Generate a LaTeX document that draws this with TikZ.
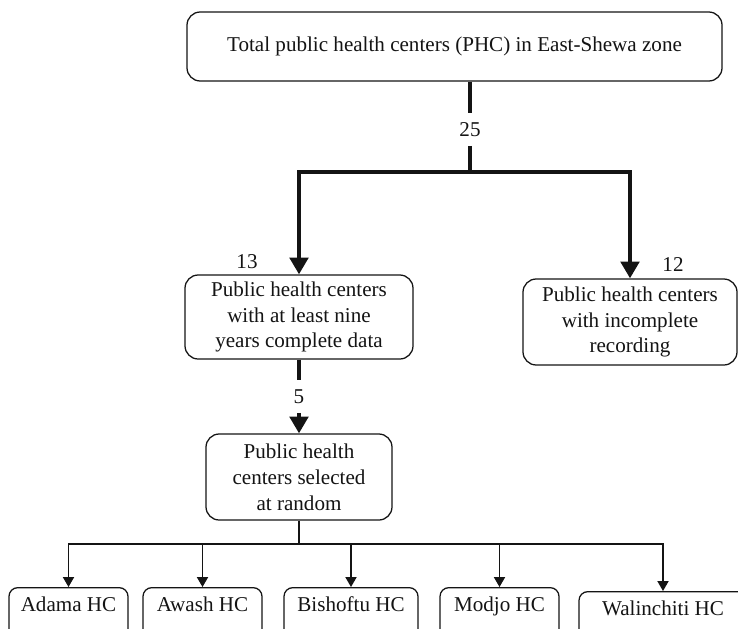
\documentclass[tikz,border=0pt]{standalone}
\usepackage{fontspec}
\setmainfont{Liberation Serif}
\usepackage{tikz}
\usetikzlibrary{arrows.meta}
\definecolor{PhcInk}{RGB}{20,20,20}
\tikzset{
  phc/box/.style={
    draw=PhcInk,
    line width=0.9pt,
    rounded corners=0.33cm,
    fill=white,
    align=center,
    text=PhcInk,
    inner xsep=6pt,
    inner ysep=4pt,
    font=\fontsize{15}{18.4}\selectfont
  },
  phc/leaf/.style={
    draw=PhcInk,
    line width=0.9pt,
    rounded corners=0.22cm,
    fill=white,
    align=center,
    text=PhcInk,
    anchor=north,
    text height=0.35cm,
    text depth=0.6cm,
    inner ysep=0.25cm,
    font=\fontsize{15}{18.4}\selectfont
  },
  phc/count/.style={font=\fontsize{15}{18.4}\selectfont, text=PhcInk, inner sep=0pt, minimum height=0.8cm},
  phc/num/.style={font=\fontsize{15}{18.4}\selectfont, text=PhcInk, inner sep=0pt},
  phc/thick/.style={line width=0.1cm, draw=PhcInk},
  phc/arrow/.style={-{Triangle[length=4.2mm,width=4.6mm]}, line width=0.1cm, draw=PhcInk},
  phc/thin/.style={line width=0.9pt, draw=PhcInk},
  phc/thinarrow/.style={-{Triangle[length=2.5mm,width=2.8mm]}, line width=0.9pt, draw=PhcInk}
}

\begin{document}
\begin{tikzpicture}[x=1cm,y=1cm]
  \clip (0,0) rectangle (18.45,-15.7);
  % boxes
  \node[phc/box,minimum width=13.375cm,minimum height=1.725cm] (total) at (11.3625,-1.1625) {Total public health centers (PHC) in East-Shewa zone};
  \node[phc/box,minimum width=5.7cm,minimum height=2.1cm] (complete) at (7.475,-7.925) {Public health centers\\with at least nine\\years complete data};
  \node[phc/box,minimum width=5.35cm,minimum height=2.15cm] (incomplete) at (15.75,-8.05) {Public health centers\\with incomplete\\recording};
  \node[phc/box,minimum width=4.65cm,minimum height=2.15cm] (random) at (7.475,-11.925) {Public health\\centers selected\\at random};
  \node[phc/leaf,minimum width=2.975cm] (adama) at (1.7125,-14.675) {Adama HC};
  \node[phc/leaf,minimum width=2.975cm] (awash) at (5.0625,-14.675) {Awash HC};
  \node[phc/leaf,minimum width=3.35cm] (bishoftu) at (8.775,-14.675) {Bishoftu HC};
  \node[phc/leaf,minimum width=2.975cm] (modjo) at (12.4875,-14.675) {Modjo HC};
  \node[phc/leaf,minimum width=4.2cm] (walinchiti) at (16.575,-14.775) {Walinchiti HC};
  % counts
  \node[phc/count] (n25) at (11.75,-3.2375) {25};
  \node[phc/count] (n5) at (7.475,-9.9125) {5};
  \node[phc/num] (n13) at (6.175,-6.55) {13};
  \node[phc/num] (n12) at (16.825,-6.625) {12};
  \coordinate (split) at (11.75,-4.3);
  \coordinate (fork) at (7.475,-13.6);
  % thick connectors
  \draw[phc/thick] (total.south -| n25) -- (n25);
  \draw[phc/arrow] (n25) -- (split) -| (complete);
  \draw[phc/arrow] (split) -| (incomplete);
  \draw[phc/thick] (complete) -- (n5);
  \draw[phc/arrow] (n5) -- (random);
  % thin connectors
  \draw[phc/thin] (random) -- (fork);
  \draw[phc/thinarrow] (fork) -| (adama);
  \draw[phc/thinarrow] (fork) -| (awash);
  \draw[phc/thinarrow] (fork) -| (bishoftu);
  \draw[phc/thinarrow] (fork) -| (modjo);
  \draw[phc/thinarrow] (fork) -| (walinchiti);
\end{tikzpicture}
\end{document}
